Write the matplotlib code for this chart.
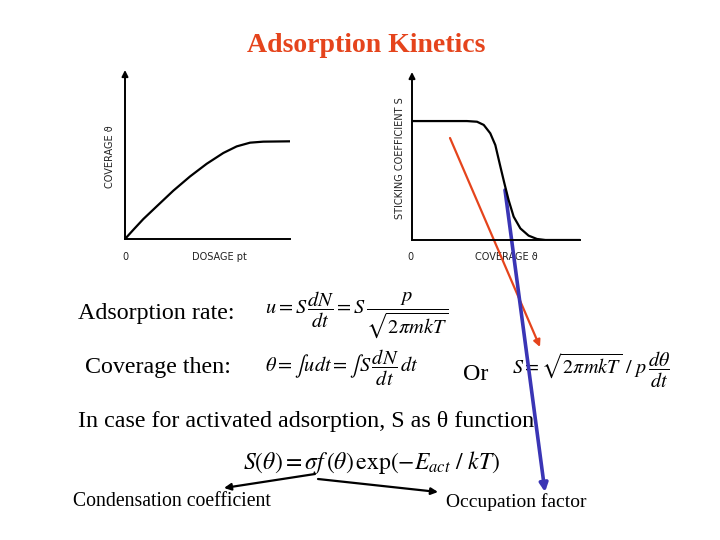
import numpy as np
import matplotlib
matplotlib.use("Agg")
import matplotlib.pyplot as plt

plt.rcParams["mathtext.fontset"] = "stix"

# coverage vs dosage (left sketch), values in axis fractions
dosage = [0.0, 0.051, 0.111, 0.192, 0.293, 0.394, 0.495, 0.596, 0.677,
          0.758, 0.838, 1.0]
coverage = [0.0, 0.055, 0.118, 0.193, 0.286, 0.37, 0.445, 0.509, 0.548,
            0.570, 0.576, 0.578]

# sticking coefficient vs coverage (right sketch)
theta = [0.0, 0.327, 0.387, 0.427, 0.466, 0.496, 0.526, 0.550, 0.575,
         0.605, 0.645, 0.694, 0.744, 0.794, 1.0]
sticking = [0.708, 0.708, 0.704, 0.685, 0.635, 0.565, 0.437, 0.337, 0.238,
            0.139, 0.069, 0.026, 0.006, 0.0, 0.0]

title = "Adsorption Kinetics"
red = "#E5441C"
blue = "#3A35B5"
serif = "Liberation Serif"

W, H = 720, 540
fig = plt.figure(figsize=(7.2, 5.4), dpi=100)
fig.patch.set_facecolor("white")

# overlay in pixel coordinates for the slide text
ov = fig.add_axes([0, 0, 1, 1])
ov.set_xlim(0, W)
ov.set_ylim(H, 0)
ov.axis("off")


def sketch_axes(x0, y_bottom, w, h):
    ax = fig.add_axes([x0 / W, (H - y_bottom) / H, w / W, h / H])
    ax.set_xlim(0, 1)
    ax.set_ylim(0, 1)
    for s in ["top", "right", "left"]:
        ax.spines[s].set_visible(False)
    ax.spines["bottom"].set_linewidth(1.4)
    ax.set_xticks([])
    ax.set_yticks([])
    ax.patch.set_alpha(0)
    ax.annotate("", xy=(0, 1.0), xytext=(0, 0), xycoords="axes fraction",
                arrowprops=dict(arrowstyle="-|>", lw=1.4, color="black",
                                mutation_scale=9, shrinkA=0, shrinkB=0))
    return ax


axl = sketch_axes(125, 239, 165, 169)
axl.plot(dosage, coverage, color="black", lw=1.6, solid_joinstyle="round")

axr = sketch_axes(412, 240, 168, 168)
axr.plot(theta, sticking, color="black", lw=1.6, solid_joinstyle="round")

lab = dict(family="DejaVu Sans", size=7, color="#222222", va="center")
ov.text(110, 157, "COVERAGE ϑ", rotation=90, ha="center", **lab)
ov.text(125, 257, "0", ha="center", **lab)
ov.text(192, 257, "DOSAGE pt", ha="left", **lab)
ov.text(400, 158, "STICKING COEFFICIENT S", rotation=90, ha="center", **lab)
ov.text(410, 257, "0", ha="center", **lab)
ov.text(475, 257, "COVERAGE ϑ", ha="left", **lab)

ov.text(366, 45, title, ha="center", va="center", family=serif,
        weight="bold", size=20, color=red)

body = dict(ha="left", va="center", family=serif, size=17.3)
ov.text(78, 314, "Adsorption rate:", **body)
ov.text(265, 315, r"$u = S\,\dfrac{dN}{dt} = S\,\dfrac{p}{\sqrt{2\pi mkT}}$",
        ha="left", va="center", size=14.7)
ov.text(85, 368, "Coverage then:", **body)
ov.text(265, 368, r"$\theta = \int udt = \int S\,\dfrac{dN}{dt}\,dt$",
        ha="left", va="center", size=14.7)
ov.text(463, 374, "Or", **body)
ov.text(512, 370, r"$S = \sqrt{2\pi mkT}\ /\ p\,\dfrac{d\theta}{dt}$",
        ha="left", va="center", size=14.5)
ov.text(78, 421, "In case for activated adsorption, S as \u03b8 function", **body)
ov.text(243, 462, r"$S(\theta) = \sigma f\,(\theta)\,\exp(-E_{act}\ /\ kT)$",
        ha="left", va="center", size=17)
ov.text(73, 502, "Condensation coefficient", ha="left", va="center",
        family=serif, size=14.2)
ov.text(446, 502, "Occupation factor", ha="left", va="center",
        family=serif, size=14)

black_arrow = dict(arrowstyle="-|>", lw=1.6, color="black",
                   mutation_scale=10, shrinkA=0, shrinkB=0)
ov.annotate("", xy=(224, 488), xytext=(315, 474), arrowprops=black_arrow)
ov.annotate("", xy=(438, 492), xytext=(318, 479), arrowprops=black_arrow)

ov.annotate("", xy=(540, 347), xytext=(450, 138),
            arrowprops=dict(arrowstyle="-|>", lw=1.6, color=red,
                            mutation_scale=10, shrinkA=0, shrinkB=0))
ov.annotate("", xy=(545, 492), xytext=(505, 190),
            arrowprops=dict(arrowstyle="-|>", lw=2.6, color=blue,
                            mutation_scale=12, shrinkA=0, shrinkB=0))

fig.savefig("out.png", dpi=100, facecolor="white")
